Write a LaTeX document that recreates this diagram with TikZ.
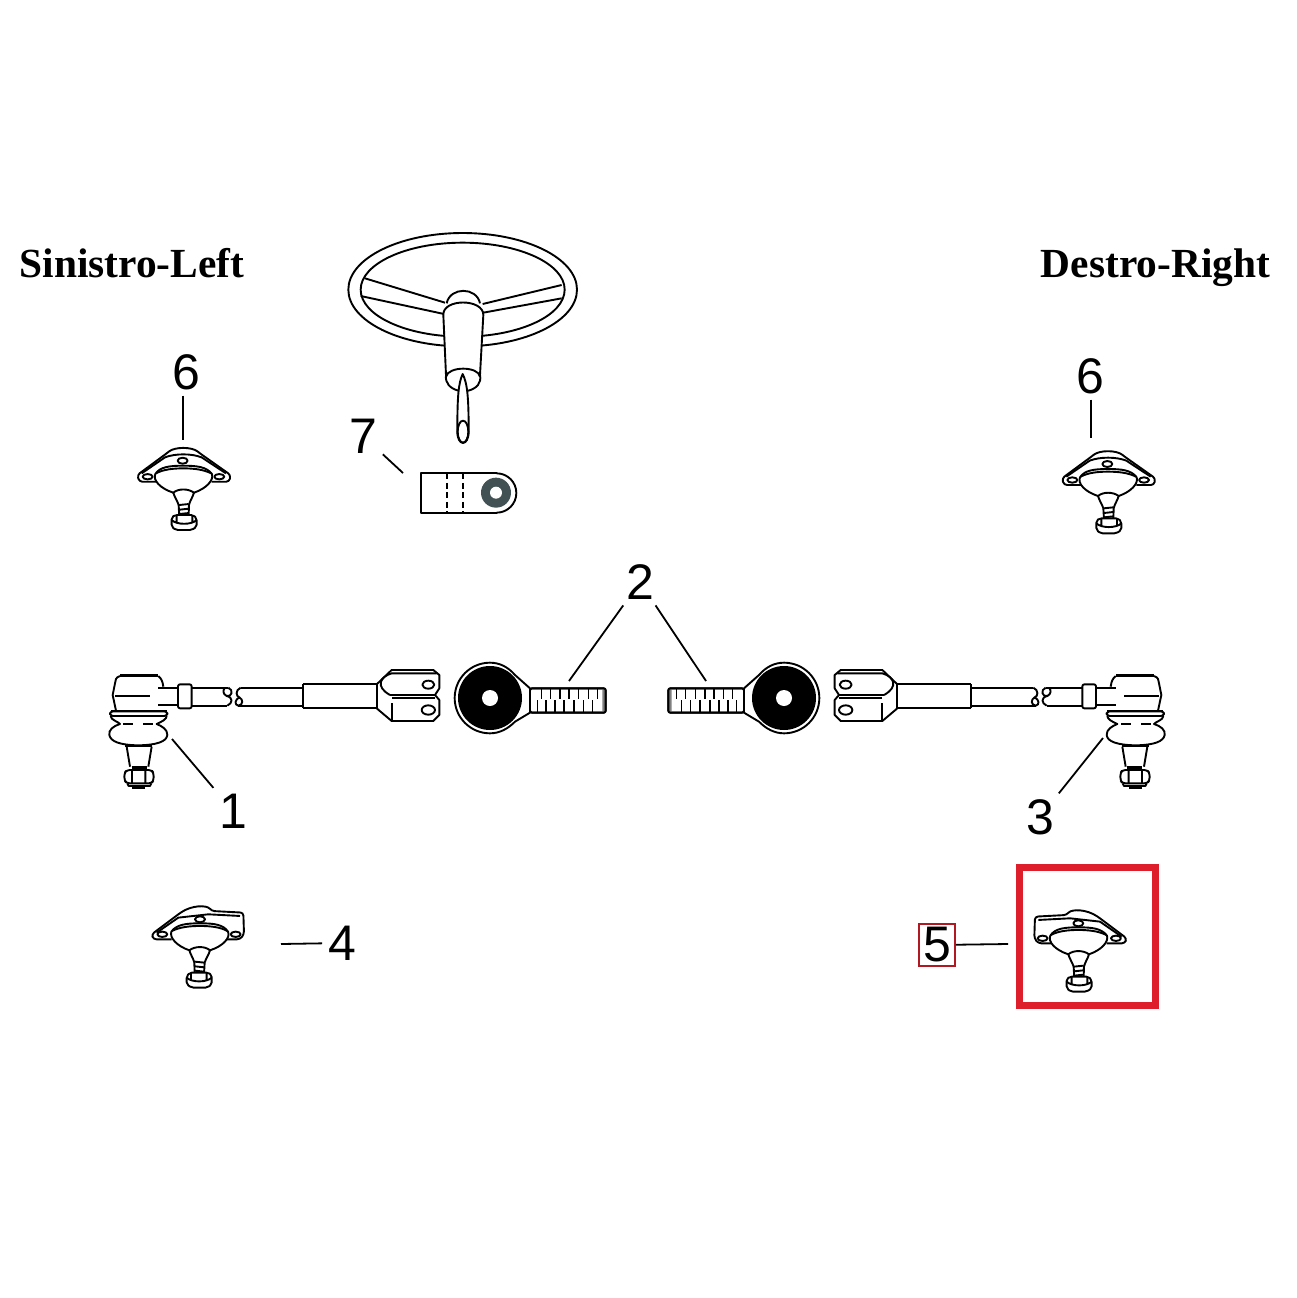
\documentclass[tikz,border=0pt]{standalone}
\usepackage{fontspec}
\setmainfont{Liberation Sans}
\newfontfamily\headfont{Liberation Serif}
\definecolor{boxred}{RGB}{222,30,42}
\definecolor{washergrey}{RGB}{66,82,84}
\newcommand{\ballpart}{
  \draw[fill=white] (-84,-8) .. controls (-70,-30) and (-40,-33) .. (0,-33) .. controls (40,-33) and (70,-30) .. (86,-8)
    .. controls (92,10) and (70,35) .. (32,48) -- (-30,48) .. controls (-70,35) and (-92,10) .. (-84,-8) -- cycle;
  \draw (-82,-10) .. controls (-60,-22) and (-30,-25) .. (0,-25) .. controls (30,-25) and (60,-22) .. (84,-10);
  \draw[fill=white] (-30,48) .. controls (-15,35) and (15,35) .. (32,48) .. controls (28,62) and (20,72) .. (17,85) -- (16,118) -- (-12,118) -- (-14,85) .. controls (-18,72) and (-26,62) .. (-30,48) -- cycle;
  \draw (-13,85) -- (16,82) (-12,99) -- (16,96) (-12,112) -- (16,109);
  \draw[fill=white, rounded corners=2] (-35,122) -- (-25,115) -- (30,115) -- (40,125) -- (40,150) -- (25,160) -- (-22,160) -- (-35,150) -- cycle;
  \draw (-20,115) -- (-20,135) (27,115) -- (27,135) (-35,130) .. controls (-20,145) and (25,145) .. (40,130);
}
\tikzset{
  part/.style={scale=1/3},
  numlabel/.style={inner sep=5pt, font=\fontsize{50}{50}\selectfont},
  headlabel/.style={inner sep=0pt, anchor=base, font=\headfont\bfseries\fontsize{41.4}{40}\selectfont},
  leader/.style={line width=1.8pt},
  jointsym/.pic={
    \draw[fill=white, rounded corners=3] (-80,15) -- (-132,15) -- (-138,-5) -- (-50,-70) .. controls (-25,-90) and (25,-90) .. (50,-70) -- (142,-5) -- (138,15) -- (85,15);
    \draw (-125,-10) -- (-55,-58) .. controls (-25,-70) and (25,-70) .. (55,-58) -- (128,-10);
    \draw (-107,0) ellipse [x radius=15, y radius=8];
    \draw (108,0) ellipse [x radius=15, y radius=8];
    \draw (-2,-48) ellipse [x radius=15, y radius=9];
    \ballpart
  },
  jointskew/.pic={
    \draw[fill=white, rounded corners=3] (-80,15) -- (-120,15) -- (-132,0) -- (-130,-65) -- (-35,-70) .. controls (-20,-88) and (25,-88) .. (65,-60) -- (145,0) -- (140,15) -- (85,15);
    \draw (-120,-55) -- (-25,-60) -- (65,-50) -- (130,-5);
    \draw (-107,0) ellipse [x radius=15, y radius=8];
    \draw (113,0) ellipse [x radius=15, y radius=8];
    \draw (0,-45) ellipse [x radius=15, y radius=9];
    \ballpart
  },
  tierod/.pic={
    % boot
    \draw[fill=white] (62,228) .. controls (62,240) and (85,245) .. (90,252) .. controls (70,258) and (55,270) .. (58,285)
      .. controls (62,305) and (90,315) .. (145,316) .. controls (200,315) and (230,305) .. (232,285)
      .. controls (233,268) and (215,258) .. (200,252) .. controls (215,245) and (230,238) .. (230,228);
    \draw (100,252) -- (130,252) (160,252) -- (190,252);
    \draw[fill=white, rounded corners=3] (60,214) rectangle (232,228);
    \draw[line width=2.6pt] (62,213) -- (230,213);
    % stud and nut
    \draw (110,320) -- (120,380) (185,320) -- (175,380);
    \draw[line width=2.6pt] (105,318) -- (185,318) (125,382) -- (170,382);
    \draw[rounded corners=3] (110,390) -- (185,390) -- (191,400) -- (191,420) -- (185,430) -- (110,430) -- (103,420) -- (103,400) -- cycle;
    \draw (126,390) -- (126,430) (166,390) -- (166,430) (112,430) -- (116,438) -- (180,438) -- (184,430);
    \fill (125,438) rectangle (165,446);
    % head
    \fill (90,101) rectangle (205,111);
    \draw (90,108) .. controls (78,112) and (75,120) .. (75,130) -- (68,165) -- (78,212);
    \draw (205,108) .. controls (214,115) and (218,125) .. (220,140);
    \draw (75,168) -- (180,168);
    \draw (205,143) -- (262,143) (205,195) -- (262,195);
    % shaft
    \draw[fill=white, rounded corners=2] (264,133) rectangle (305,205);
    \draw (305,143) -- (415,143) (305,197) -- (412,197);
    \draw (415,143) .. controls (432,150) and (425,172) .. (410,168) .. controls (398,162) and (398,150) .. (405,143);
    \draw (410,168) .. controls (430,172) and (428,190) .. (412,197);
    \draw (452,143) .. controls (435,150) and (438,170) .. (448,172) .. controls (460,178) and (460,195) .. (445,197) .. controls (432,195) and (435,178) .. (448,172);
    \draw (452,143) -- (640,143) (445,197) -- (640,197);
    \draw (640,133) -- (860,133) (640,205) -- (860,205) (640,133) -- (640,205) (860,133) -- (860,205);
    % yoke
    \draw (860,133) -- (905,90) -- (1030,90) -- (1048,105) -- (1048,145) -- (1035,165) -- (900,165);
    \draw (1040,100) -- (905,100) .. controls (870,110) and (855,140) .. (900,165);
    \draw (860,205) -- (905,243) -- (1030,243) -- (1048,225) -- (1048,180) -- (1035,165);
    \draw (905,190) -- (905,243) (1035,175) -- (905,175);
    \draw (1015,134) ellipse [x radius=18, y radius=12];
    \draw (1015,210) ellipse [x radius=20, y radius=14];
  },
  eyeend/.pic={
    \draw[fill=white] (270,385) -- (225,345) .. controls (205,322) and (180,308) .. (150,308) arc (-90:-270:106) .. controls (180,520) and (205,505) .. (225,485) -- (270,458) -- cycle;
    \fill (150,414) circle (96);
    \fill[white] (150,414) circle (24);
    \draw[fill=white, rounded corners=2] (270,385) rectangle (497,458);
    \fill[gray, rounded corners=2] (487,385) rectangle (497,458);
    \draw[rounded corners=2] (270,385) rectangle (497,458);
    \foreach \tx in {305,332,360,387,415,445,472} \draw[line width=1.2pt] (\tx,385) -- (\tx,418);
    \foreach \tx in {292,318,345,372,402,430,458} \draw[line width=1.2pt] (\tx,420) -- (\tx,458);
  },
}
\begin{document}
\begin{tikzpicture}[x=1pt, y=-1pt, line width=1.9pt, line join=round]
  \useasboundingbox (0,0) rectangle (1296,1298);

  % steering wheel
  \begin{scope}[shift={(330,220)}, part]
    \draw (398,209) ellipse [x radius=343, y radius=170];
    \draw (398,209) ellipse [x radius=306, y radius=141];
    \draw (105,175) -- (345,248) (92,228) -- (342,282);
    \draw (695,195) -- (458,252) (695,235) -- (460,278);
    \draw[fill=white] (350,250) .. controls (360,200) and (440,200) .. (450,250);
    \draw[fill=white] (348,465) -- (340,285) .. controls (338,235) and (460,235) .. (460,285) -- (450,465)
      .. controls (455,490) and (440,505) .. (415,512) -- (385,512) .. controls (360,505) and (345,490) .. (348,465) -- cycle;
    \draw (348,470) .. controls (355,438) and (445,438) .. (450,470);
    \draw[fill=white] (398,462) .. controls (385,490) and (382,530) .. (382,635) .. controls (382,680) and (416,680) .. (416,635) .. controls (416,530) and (412,490) .. (398,462) -- cycle;
    \draw (399,635) ellipse [x radius=16, y radius=33];
  \end{scope}

  % bracket
  \begin{scope}[shift={(330,220)}, part]
    \draw (500,760) -- (273,760) -- (273,878) -- (500,878);
    \draw (500,760) arc (-90:90:59);
    \draw[dash pattern=on 6pt off 3.5pt] (350,760) -- (350,878) (400,760) -- (400,878);
    \fill[washergrey] (498,818) circle (45);
    \fill[white] (498,818) circle (18);
  \end{scope}

  \pic[part] at (183.3,476.7) {jointsym};
  \pic[part] at (1108,480) {jointsym};
  \pic[part] at (1078.3,938.3) {jointskew};
  \pic[part, xscale=-1] at (200,934.3) {jointskew};

  \pic[part] at (90,640) {tierod};
  \pic[part, xscale=-1] at (1184,640) {tierod};
  \pic[part] at (440,560) {eyeend};
  \pic[part, xscale=-1] at (834,560) {eyeend};

  \node[headlabel] (headleft) at (132,277) {Sinistro-Left};
  \node[headlabel] (headright) at (1155.5,277) {Destro-Right};

  \node[numlabel] (num6a) at (186,372) {6};
  \node[numlabel] (num6b) at (1090,376) {6};
  \node[numlabel] (num7) at (363,436) {7};
  \node[numlabel] (num2) at (640,582) {2};
  \node[numlabel] (num1) at (233,811) {1};
  \node[numlabel] (num3) at (1040,817) {3};
  \node[numlabel] (num4) at (342,943) {4};
  \node[numlabel, draw=boxred!80!black, line width=2pt, line join=miter, inner sep=4pt] (num5) at (937,945) {5};
  \node[draw=boxred, line width=7pt, line join=miter, minimum width=136pt, minimum height=138pt, inner sep=0pt] (box5) at (1087,936) {};

  \coordinate (tip6a) at (183,440);
  \coordinate (tip6b) at (1091,438);
  \coordinate (tip7) at (403,473);
  \coordinate (tip2a) at (569,681);
  \coordinate (tip2b) at (706,681);
  \coordinate (tip1) at (172,739);
  \coordinate (tip3) at (1103,738);
  \coordinate (tip4) at (281,944);
  \coordinate (tip5) at (1008,944);

  \draw[leader] (num6a.south -| tip6a) -- (tip6a);
  \draw[leader] (num6b.south -| tip6b) -- (tip6b);
  \draw[leader] (num7) -- (tip7);
  \draw[leader] (num2) -- (tip2a);
  \draw[leader] (num2) -- (tip2b);
  \draw[leader] (num1) -- (tip1);
  \draw[leader] (num3) -- (tip3);
  \draw[leader] (num4) -- (tip4);
  \draw[leader] (num5) -- (tip5);
\end{tikzpicture}
\end{document}
